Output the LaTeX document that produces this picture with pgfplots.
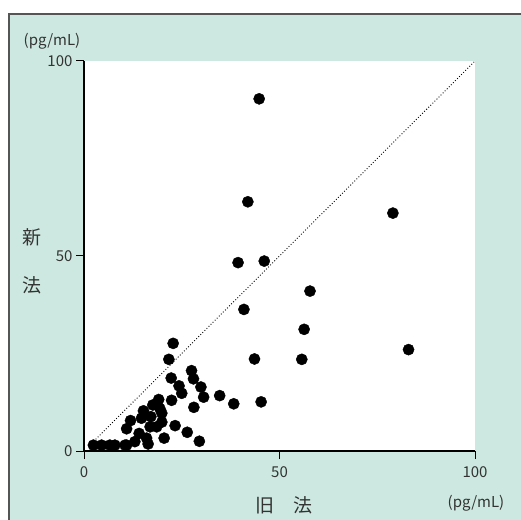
\documentclass[border=0pt]{standalone}
\usepackage{pgfplots}
\pgfplotsset{compat=1.18}
\usepackage{fontspec}
\setmainfont{Noto Sans CJK JP}
\definecolor{mint}{RGB}{205,232,224}
\definecolor{frame}{RGB}{85,85,85}

% old method (x) vs new method (y), pg/mL
\pgfplotstableread{
x y
44.8 90.3
41.9 63.9
79.0 61.0
83.0 26.0
39.4 48.3
46.1 48.7
57.8 41.0
40.9 36.3
56.3 31.2
43.6 23.6
55.7 23.5
22.8 27.6
21.7 23.5
27.5 20.6
28.0 18.5
22.3 18.7
24.3 16.7
25.0 14.8
29.9 16.4
30.6 13.8
34.7 14.2
38.3 12.1
45.3 12.6
22.4 13.0
28.1 11.2
23.3 6.5
26.4 4.8
29.5 2.5
20.5 3.3
19.1 13.2
17.6 11.8
15.2 10.3
17.1 8.8
19.9 9.7
19.9 7.4
11.9 7.8
10.9 5.7
14.1 4.5
16.0 3.3
16.4 1.8
13.0 2.4
10.5 1.5
2.4 1.5
4.5 1.5
6.6 1.5
7.9 1.5
10.9 1.5
16.9 6.2
14.7 8.4
18.6 6.2
19.4 10.9
}\pts

\begin{document}
\begin{tikzpicture}
\useasboundingbox (0pt,0pt) rectangle (521pt,519pt);
\fill[white] (0pt,0pt) rectangle (521pt,519pt);
\filldraw[fill=mint,draw=frame,line width=1.2pt] (9pt,-5pt) rectangle (530pt,505pt);
\begin{axis}[
  at={(84pt,68pt)}, anchor=origin,
  scale only axis, width=391pt, height=390pt,
  xmin=0, xmax=100, ymin=0, ymax=100,
  axis lines=left, axis line style={-, line width=1.2pt},
  axis background/.style={fill=white},
  xtick={0,50,100}, ytick={0,50,100},
  tick align=outside, major tick length=8pt,
  tick style={black, line width=1pt},
  /pgf/number format/assume math mode=true,
  ticklabel style={font=\fontsize{15}{18}\selectfont, text=black!80},
  xticklabel style={yshift=-4pt},
  clip=false,
]
\addplot[black, dotted, line width=0.9pt] coordinates {(3,3) (100,100)};
\addplot[only marks, mark=*, mark size=5.6pt, black] table {\pts};
\end{axis}
\node[font=\fontsize{15}{18}\selectfont, text=black!80] at (52pt,478pt) {(pg/mL)};
\node[font=\fontsize{15}{18}\selectfont, text=black!80] at (476pt,16pt) {(pg/mL)};
\node[font=\fontsize{19}{22}\selectfont, text=black!80] at (284pt,14pt) {旧\quad 法};
\node[font=\fontsize{19}{22}\selectfont, text=black!80] at (32pt,282pt) {新};
\node[font=\fontsize{19}{22}\selectfont, text=black!80] at (32pt,234pt) {法};
\end{tikzpicture}
\end{document}
